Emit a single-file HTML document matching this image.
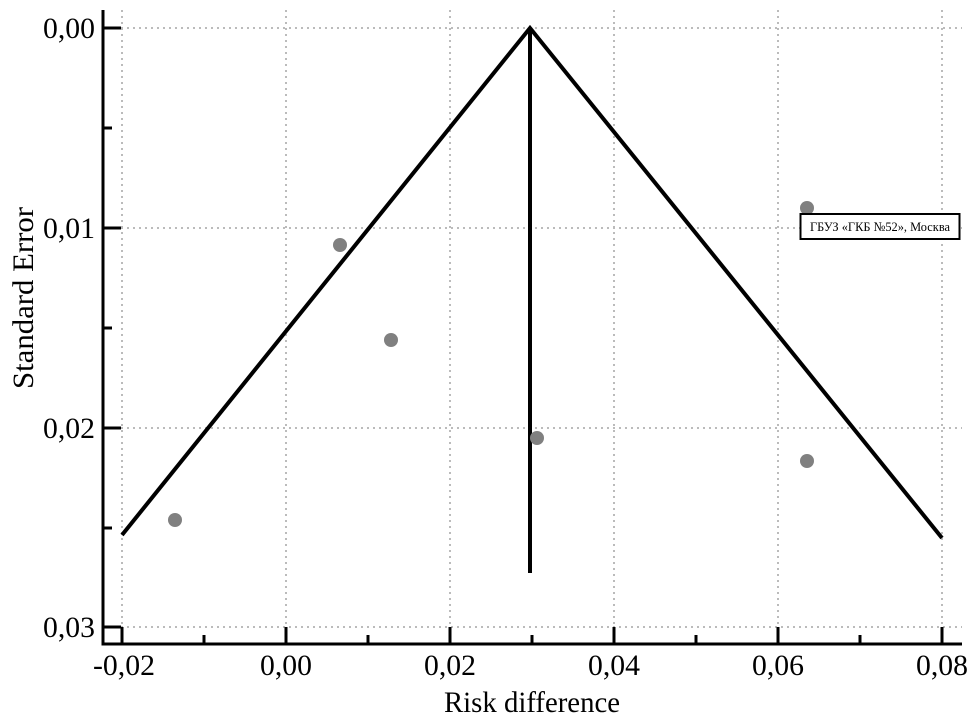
<!DOCTYPE html>
<html><head><meta charset="utf-8"><style>body{margin:0;background:#fff}svg{display:block}</style></head><body>
<svg width="975" height="720" xmlns="http://www.w3.org/2000/svg" font-family="Liberation Serif, serif">
<g stroke="#bbb" stroke-width="2" stroke-dasharray="2,4">
<line x1="122" y1="10" x2="122" y2="644"/><line x1="286" y1="10" x2="286" y2="644"/><line x1="450" y1="10" x2="450" y2="644"/><line x1="614" y1="10" x2="614" y2="644"/><line x1="778" y1="10" x2="778" y2="644"/><line x1="942" y1="10" x2="942" y2="644"/>
<line x1="103" y1="28" x2="962" y2="28"/><line x1="103" y1="228" x2="962" y2="228"/><line x1="103" y1="428" x2="962" y2="428"/><line x1="103" y1="627" x2="962" y2="627"/>
</g>
<g stroke="#000" stroke-width="3" fill="none">
<polyline points="103,10 103,644 962,644"/>
<line x1="103" y1="28" x2="121" y2="28"/><line x1="103" y1="228" x2="121" y2="228"/><line x1="103" y1="428" x2="121" y2="428"/><line x1="103" y1="627" x2="121" y2="627"/>
<line x1="103" y1="128" x2="112" y2="128"/><line x1="103" y1="328" x2="112" y2="328"/><line x1="103" y1="528" x2="112" y2="528"/>
<line x1="122" y1="644" x2="122" y2="627"/><line x1="286" y1="644" x2="286" y2="627"/><line x1="450" y1="644" x2="450" y2="627"/><line x1="614" y1="644" x2="614" y2="627"/><line x1="778" y1="644" x2="778" y2="627"/><line x1="942" y1="644" x2="942" y2="627"/>
<line x1="204" y1="644" x2="204" y2="635"/><line x1="368" y1="644" x2="368" y2="635"/><line x1="532" y1="644" x2="532" y2="635"/><line x1="696" y1="644" x2="696" y2="635"/><line x1="860" y1="644" x2="860" y2="635"/>
<polyline points="122,535 530,28 942,538" stroke-width="4"/>
<line x1="530" y1="28" x2="530" y2="573" stroke-width="4"/>
</g>
<g fill="#808080">
<circle cx="175" cy="520" r="7"/><circle cx="340" cy="245" r="7"/><circle cx="391" cy="340" r="7"/><circle cx="537" cy="438" r="7"/><circle cx="807" cy="208" r="7"/><circle cx="807" cy="461" r="7"/>
</g>
<rect x="800.5" y="214" width="159" height="25" fill="#fff" stroke="#000" stroke-width="2"/>
<text x="880" y="231" font-size="13" text-anchor="middle" textLength="140" lengthAdjust="spacingAndGlyphs">ГБУЗ «ГКБ №52», Москва</text>
<g font-size="30" text-anchor="end">
<text x="95" y="38" textLength="52" lengthAdjust="spacingAndGlyphs">0,00</text>
<text x="95" y="238" textLength="52" lengthAdjust="spacingAndGlyphs">0,01</text>
<text x="95" y="438" textLength="52" lengthAdjust="spacingAndGlyphs">0,02</text>
<text x="95" y="637" textLength="52" lengthAdjust="spacingAndGlyphs">0,03</text>
</g>
<g font-size="30" text-anchor="middle">
<text x="124" y="675" textLength="62" lengthAdjust="spacingAndGlyphs">-0,02</text><text x="286" y="675" textLength="52" lengthAdjust="spacingAndGlyphs">0,00</text><text x="450" y="675" textLength="52" lengthAdjust="spacingAndGlyphs">0,02</text><text x="614" y="675" textLength="52" lengthAdjust="spacingAndGlyphs">0,04</text><text x="778" y="675" textLength="52" lengthAdjust="spacingAndGlyphs">0,06</text><text x="942" y="675" textLength="52" lengthAdjust="spacingAndGlyphs">0,08</text>
<text x="532" y="712" textLength="176" lengthAdjust="spacingAndGlyphs">Risk difference</text>
<text transform="translate(33,298) rotate(-90)" textLength="182" lengthAdjust="spacingAndGlyphs">Standard Error</text>
</g>
</svg>
</body></html>
